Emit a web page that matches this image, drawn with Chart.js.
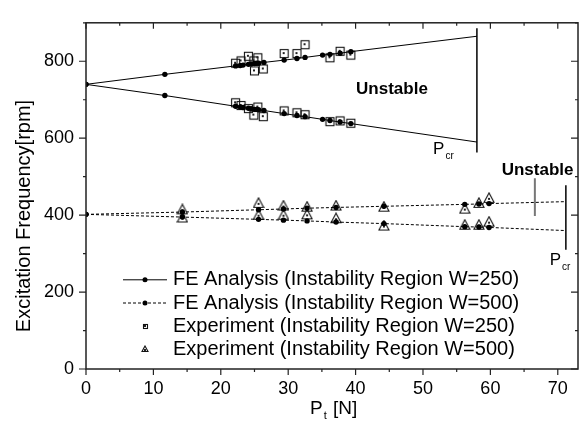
<!DOCTYPE html>
<html>
<head>
<meta charset="utf-8">
<script src="https://cdn.jsdelivr.net/npm/chart.js@4.4.1/dist/chart.umd.min.js"></script>
<style>
  body { margin: 0; background: #fff; }
  #wrap { width: 584px; height: 421px; }
</style>
</head>
<body>
<div id="wrap"><canvas id="freqPlot"></canvas></div>
<script>
// FE analysis, W=250 (last entry = end of the line at P_cr, no marker)
var pFE250 = [0, 11.7, 22.2, 22.9, 23.3, 24.1, 24.5, 25.0, 25.3, 25.6, 26.4, 29.4, 31.3, 32.5, 35.1, 36.2, 37.7, 39.3, 58];
var feUpper250 = [740, 766, 788, 789, 790, 792, 793, 794, 795, 795, 797, 803, 807, 810, 816, 818, 821, 825, 865];
var feLower250 = [740, 711, 683, 681, 680, 678, 677, 675, 675, 674, 672, 664, 659, 656, 649, 646, 642, 638, 590];

// FE analysis, W=500
var pFE500 = [0, 14.3, 25.6, 29.3, 32.8, 37.1, 44.2, 56.2, 58.3, 59.8, 71];
var feUpper500 = [402, 408, 414, 416, 418, 420, 423, 428, 429, 430, 435];
var feLower500 = [402, 395, 389, 387, 385, 382, 378, 370, 369, 368, 360];

// experiment, W=250
var pExpUpper250 = [22.2, 23.0, 24.1, 24.9, 25.5, 25.0, 26.3, 29.4, 31.3, 32.5, 36.2, 37.7, 39.3];
var expUpper250 = [795, 801, 813, 801, 809, 775, 780, 820, 820, 843, 809, 826, 816];
var pExpLower250 = [22.2, 23.0, 24.1, 24.9, 25.5, 26.3, 29.4, 31.3, 32.5, 36.2, 37.7, 39.3];
var expLower250 = [692, 685, 677, 660, 681, 656, 671, 666, 661, 643, 645, 639];

// experiment, W=500
var pExp500 = [14.3, 14.3, 25.6, 25.6, 29.3, 29.3, 32.8, 32.8, 37.1, 37.1, 44.2, 44.2, 56.2, 56.2, 58.3, 58.3, 59.8, 59.8];
var exp500 = [415, 394, 432, 401, 425, 401, 422, 402, 425, 392, 422, 373, 417, 375, 432, 375, 445, 383];

// critical load markers
var pcr250 = [58, 58];
var pcr250Freq = [563, 886];
var pcr500 = [71.2, 71.2];
var pcr500Freq = [310, 478];
var unstable500 = [66.6, 66.6];
var unstable500Freq = [398, 496];

var legendLabels = [
  'FE Analysis (Instability Region W=250)',
  'FE Analysis (Instability Region W=500)',
  'Experiment (Instability Region W=250)',
  'Experiment (Instability Region W=500)'
];

var fontFam = "'Liberation Sans', Arial, Helvetica, sans-serif";

function toPoints(xs, ys) {
  var pts = [];
  for (var i = 0; i < xs.length; i++) {
    pts.push({x: xs[i], y: ys[i]});
  }
  return pts;
}

function makeMarker(shape, size) {
  var c = document.createElement('canvas');
  c.width = size;
  c.height = size;
  var g = c.getContext('2d');
  g.strokeStyle = '#111';
  g.lineWidth = 1.1;
  if (shape === 'square') {
    g.strokeRect(1.5, 1.5, size - 3, size - 3);
  } else {
    g.beginPath();
    g.moveTo(size / 2, 1);
    g.lineTo(size - 1, size - 1.5);
    g.lineTo(1, size - 1.5);
    g.closePath();
    g.stroke();
  }
  g.fillStyle = '#222';
  g.fillRect(Math.floor(size / 2) - 1, Math.floor(size / 2) - (shape === 'square' ? 1 : 0), 2, 2);
  return c;
}

var squareMark = makeMarker('square', 11);
var triMark = makeMarker('triangle', 12);
var squareSmall = makeMarker('square', 7);
var triSmall = makeMarker('triangle', 8);

function feDataset(xs, ys, dashed) {
  return {
    data: toPoints(xs, ys),
    showLine: true,
    borderColor: '#000',
    borderWidth: 1,
    borderDash: dashed ? [3, 2] : [],
    pointRadius: function(c) { return c.dataIndex === xs.length - 1 ? 0 : 2.7; },
    pointBackgroundColor: '#000',
    pointBorderWidth: 0,
    pointHoverRadius: 0
  };
}

function expDataset(xs, ys, marker) {
  return {
    data: toPoints(xs, ys),
    showLine: false,
    pointStyle: marker,
    pointRadius: 5,
    pointHoverRadius: 5
  };
}

function vLine(xs, ys, colour, width) {
  return {
    data: toPoints(xs, ys),
    showLine: true,
    borderColor: colour,
    borderWidth: width,
    pointRadius: 0,
    pointHoverRadius: 0
  };
}

// text placed in data coordinates
var notes = [
  {text: 'Unstable', x: 45.4, y: 726, bold: true},
  {text: 'P', sub: 'cr', x: 51.5, y: 572},
  {text: 'Unstable', x: 67.0, y: 516, bold: true},
  {text: 'P', sub: 'cr', x: 68.8, y: 282}
];

var extrasPlugin = {
  id: 'extras',
  afterDraw: function(chart) {
    var ctx = chart.ctx;
    var a = chart.chartArea;
    var xs = chart.scales.x;
    var ys = chart.scales.y;
    ctx.save();

    // frame and ticks
    ctx.strokeStyle = '#222';
    ctx.lineWidth = 1.5;
    ctx.strokeRect(a.left, a.top, a.right - a.left, a.bottom - a.top);
    ctx.lineWidth = 1.2;
    ctx.beginPath();
    xs.ticks.forEach(function(t) {
      var px = xs.getPixelForValue(t.value);
      var len = t.value % 10 === 0 ? 6 : 3;
      ctx.moveTo(px, a.bottom);
      ctx.lineTo(px, a.bottom + len);
      ctx.moveTo(px, a.top);
      ctx.lineTo(px, a.top + len);
    });
    ys.ticks.forEach(function(t) {
      var py = ys.getPixelForValue(t.value);
      var len = t.value % 200 === 0 ? 7 : 3;
      ctx.moveTo(a.left, py);
      ctx.lineTo(a.left - len, py);
      ctx.moveTo(a.right, py);
      ctx.lineTo(a.right - len, py);
    });
    ctx.stroke();

    // annotations
    ctx.fillStyle = '#000';
    ctx.textBaseline = 'middle';
    notes.forEach(function(n) {
      var px = xs.getPixelForValue(n.x);
      var py = ys.getPixelForValue(n.y);
      if (n.bold) {
        ctx.font = 'bold 17px ' + fontFam;
        ctx.textAlign = 'center';
        ctx.fillText(n.text, px, py);
      } else {
        ctx.font = '17px ' + fontFam;
        ctx.textAlign = 'left';
        ctx.fillText(n.text, px, py);
        var w = ctx.measureText(n.text).width;
        ctx.font = '10px ' + fontFam;
        ctx.fillText(n.sub, px + w + 1, py + 7);
      }
    });

    // legend
    var lx = a.left + 37, ly = a.top + 257, gap = 23.2;
    ctx.font = '20px ' + fontFam;
    ctx.textAlign = 'left';
    for (var i = 0; i < legendLabels.length; i++) {
      var y = ly + i * gap;
      var cx = lx + 22;
      if (i < 2) {
        ctx.strokeStyle = '#000';
        ctx.lineWidth = 1;
        ctx.setLineDash(i === 1 ? [3, 2] : []);
        ctx.beginPath();
        ctx.moveTo(lx, y);
        ctx.lineTo(lx + 44, y);
        ctx.stroke();
        ctx.setLineDash([]);
        ctx.beginPath();
        ctx.arc(cx, y, 2.5, 0, Math.PI * 2);
        ctx.fill();
      } else {
        var m = i === 2 ? squareSmall : triSmall;
        ctx.drawImage(m, Math.round(cx - m.width / 2), Math.round(y - m.height / 2));
      }
      ctx.fillText(legendLabels[i], lx + 50, y);
    }

    // axis titles
    ctx.font = '20px ' + fontFam;
    ctx.textAlign = 'center';
    ctx.save();
    ctx.translate(24, 216);
    ctx.rotate(-Math.PI / 2);
    ctx.fillText('Excitation Frequency[rpm]', 0, 0);
    ctx.restore();

    var tx = (a.left + a.right) / 2 - 22;
    var tyy = 409;
    ctx.textAlign = 'left';
    ctx.font = '19px ' + fontFam;
    ctx.fillText('P', tx, tyy);
    var pw = ctx.measureText('P').width;
    ctx.font = '11px ' + fontFam;
    ctx.fillText('t', tx + pw + 1, tyy + 7);
    ctx.font = '19px ' + fontFam;
    ctx.fillText(' [N]', tx + pw + 5, tyy);

    ctx.restore();
  }
};

var ctx = document.getElementById('freqPlot');
var freqChart = new Chart(ctx, {
  type: 'scatter',
  data: {
    datasets: [
      feDataset(pFE250, feUpper250, false),
      feDataset(pFE250, feLower250, false),
      feDataset(pFE500, feUpper500, true),
      feDataset(pFE500, feLower500, true),
      expDataset(pExpUpper250, expUpper250, squareMark),
      expDataset(pExpLower250, expLower250, squareMark),
      expDataset(pExp500, exp500, triMark),
      vLine(pcr250, pcr250Freq, '#000', 1.5),
      vLine(pcr500, pcr500Freq, '#000', 1.5),
      vLine(unstable500, unstable500Freq, '#777', 2)
    ]
  },
  options: {
    responsive: true,
    maintainAspectRatio: false,
    animation: false,
    layout: { padding: { top: 13, right: 1, left: 0, bottom: 0 } },
    plugins: {
      legend: { display: false },
      tooltip: { enabled: false }
    },
    scales: {
      x: {
        type: 'linear',
        min: 0,
        max: 73,
        grid: { display: false, drawTicks: false },
        border: { display: false },
        ticks: {
          stepSize: 5,
          includeBounds: false,
          autoSkip: false,
          maxRotation: 0,
          padding: 9,
          color: '#000',
          font: { family: fontFam, size: 18 },
          callback: function(v) { return v % 10 === 0 ? v : ''; }
        },
        afterFit: function(s) { s.height = 52; }
      },
      y: {
        type: 'linear',
        min: 0,
        max: 900,
        grid: { display: false, drawTicks: false },
        border: { display: false },
        ticks: {
          stepSize: 100,
          autoSkip: false,
          padding: 12,
          color: '#000',
          font: { family: fontFam, size: 18 },
          callback: function(v) { return v % 200 === 0 ? v : ''; }
        },
        afterFit: function(s) { s.width = 86; }
      }
    }
  },
  plugins: [extrasPlugin]
});
</script>
</body>
</html>
